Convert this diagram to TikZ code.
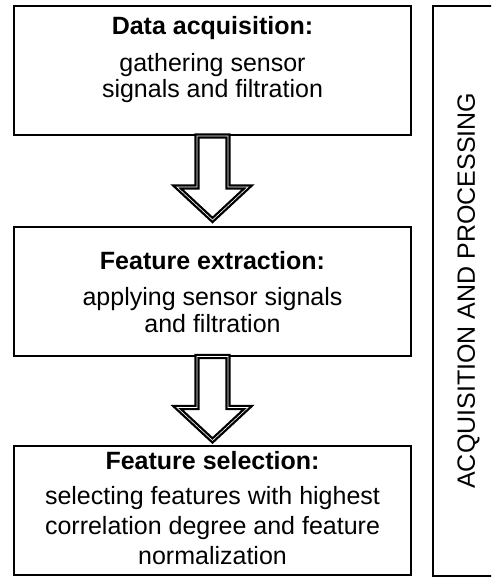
\documentclass[tikz,border=0pt]{standalone}
\usepackage{fontspec}
\setmainfont{Liberation Sans}
\begin{document}
\begin{tikzpicture}[x=1pt,y=-1pt,
  box/.style={draw, line width=2pt, minimum width=397pt, minimum height=129pt, inner sep=0pt},
  ln/.style={font=\fontsize{25}{29}\selectfont, anchor=base, inner sep=0pt},
  ttl/.style={ln, font=\fontsize{25}{29}\selectfont\bfseries},
  side/.style={draw, line width=2pt, rotate=90, minimum width=569.5pt, minimum height=71pt, inner sep=0pt, font=\fontsize{25}{29}\selectfont},
  fatarrow/.style={draw=black, line width=2.3pt, double=white, double distance=0.6pt, fill=white, line join=miter}]
\useasboundingbox (0,0) rectangle (491,577);
\clip (0,0) rectangle (491,577);

\node[box] (b1) at (212.5,70.5) {};
\node[box] (b2) at (212.5,291) {};
\node[box] (b3) at (212.5,510.5) {};
\node[side] (s) at (468.5,290.75) {ACQUISITION AND PROCESSING};

\node[ttl] (t1) at (212.5,35) {Data acquisition:};
\node[ln] (t1a) at (212.5,72) {gathering sensor};
\node[ln] (t1b) at (212.5,98) {signals and filtration};

\node[ttl] (t2) at (212.5,269) {Feature extraction:};
\node[ln] (t2a) at (212.5,305) {applying sensor signals};
\node[ln] (t2b) at (212.5,332) {and filtration};

\node[ttl] (t3) at (212.5,469) {Feature selection:};
\node[ln] (t3a) at (212.5,504) {selecting features with highest};
\node[ln] (t3b) at (212.5,534) {correlation degree and feature};
\node[ln] (t3c) at (212.5,564) {normalization};

\draw[fatarrow] (b1.south) ++(-15.5,0) -- ++(0,51) -- ++(-20,0) -- ++(35.5,33) -- ++(35.5,-33) -- ++(-20,0) -- ++(0,-51) -- cycle;
\draw[fatarrow] (b2.south) ++(-15.5,0) -- ++(0,51) -- ++(-20,0) -- ++(35.5,33) -- ++(35.5,-33) -- ++(-20,0) -- ++(0,-51) -- cycle;
\end{tikzpicture}
\end{document}
